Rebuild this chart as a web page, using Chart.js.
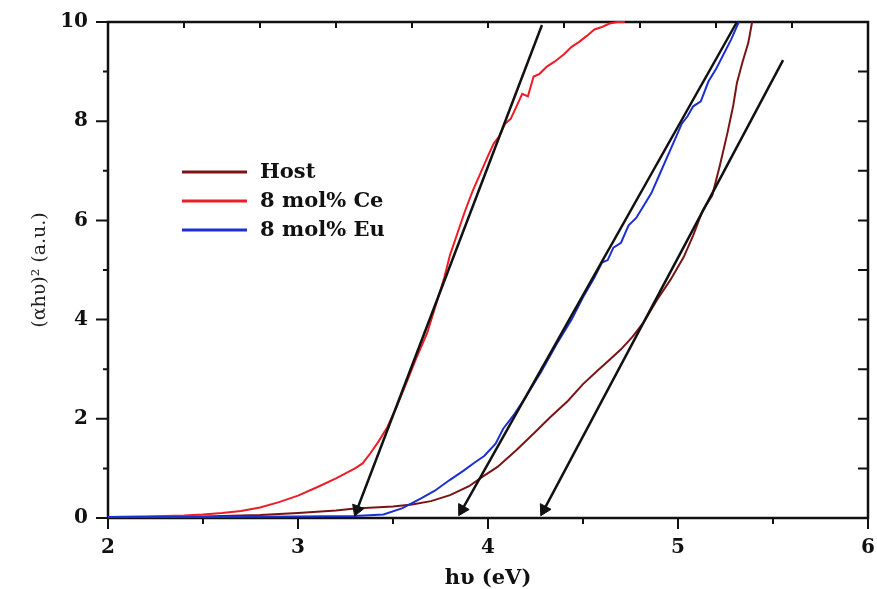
<!DOCTYPE html>
<html>
<head>
<meta charset="utf-8">
<script src="https://cdn.jsdelivr.net/npm/chart.js@4.4.0/dist/chart.umd.min.js"></script>
<style>
body{margin:0;background:#fff;}
canvas{display:block;}
</style>
</head>
<body>
<canvas id="taucChart" width="877" height="589"></canvas>
<script>
// values: x = h nu (eV), y = (alpha h nu)^2 (a.u.)
var seriesNames = ['Host', '8 mol% Ce', '8 mol% Eu'];

var hostX = [2.0, 2.5, 2.8, 3.0, 3.2, 3.3, 3.4, 3.5, 3.6, 3.7, 3.8, 3.9, 3.97, 4.05, 4.15, 4.25, 4.33, 4.42, 4.5, 4.57, 4.64, 4.7, 4.76, 4.82, 4.89, 4.96, 5.03, 5.08, 5.13, 5.18, 5.22, 5.26, 5.29, 5.31, 5.34, 5.37, 5.39];
var hostY = [0.02, 0.03, 0.06, 0.1, 0.15, 0.19, 0.21, 0.23, 0.27, 0.34, 0.46, 0.64, 0.83, 1.03, 1.37, 1.74, 2.04, 2.36, 2.7, 2.95, 3.19, 3.4, 3.65, 3.95, 4.4, 4.8, 5.26, 5.7, 6.2, 6.5, 7.1, 7.76, 8.3, 8.77, 9.2, 9.58, 10.0];

var ceX = [2.0, 2.2, 2.4, 2.5, 2.6, 2.7, 2.8, 2.9, 3.0, 3.1, 3.2, 3.26, 3.3, 3.34, 3.38, 3.42, 3.47, 3.52, 3.57, 3.62, 3.68, 3.73, 3.77, 3.8, 3.84, 3.88, 3.92, 3.96, 4.0, 4.03, 4.06, 4.09, 4.12, 4.15, 4.18, 4.21, 4.24, 4.27, 4.31, 4.35, 4.4, 4.44, 4.48, 4.52, 4.56, 4.6, 4.64, 4.68, 4.72];
var ceY = [0.02, 0.03, 0.05, 0.07, 0.1, 0.14, 0.21, 0.32, 0.45, 0.62, 0.8, 0.92, 1.0, 1.1, 1.3, 1.52, 1.83, 2.25, 2.72, 3.2, 3.73, 4.35, 4.85, 5.3, 5.75, 6.2, 6.6, 6.95, 7.3, 7.55, 7.7, 7.95, 8.05, 8.3, 8.55, 8.5, 8.9, 8.95, 9.1, 9.2, 9.35, 9.5, 9.6, 9.72, 9.85, 9.9, 9.97, 10.0, 10.0];

var euX = [2.0, 2.5, 3.0, 3.3, 3.45, 3.55, 3.65, 3.72, 3.8, 3.87, 3.93, 3.98, 4.04, 4.08, 4.14, 4.2, 4.28, 4.36, 4.44, 4.5, 4.56, 4.6, 4.63, 4.66, 4.7, 4.74, 4.78, 4.82, 4.86, 4.9, 4.94, 4.98, 5.02, 5.05, 5.08, 5.12, 5.16, 5.2, 5.24, 5.28, 5.32];
var euY = [0.02, 0.02, 0.03, 0.04, 0.07, 0.2, 0.4, 0.55, 0.77, 0.95, 1.12, 1.25, 1.5, 1.8, 2.1, 2.45, 2.95, 3.5, 4.0, 4.45, 4.85, 5.15, 5.2, 5.45, 5.55, 5.9, 6.05, 6.3, 6.55, 6.9, 7.25, 7.6, 7.95, 8.1, 8.3, 8.4, 8.8, 9.05, 9.35, 9.65, 10.0];

// tangent arrows: [head end, far end]
var arrowX = [[3.311, 4.284], [3.864, 5.31], [4.295, 5.553]];
var arrowY = [[0.17, 9.94], [0.17, 10.0], [0.17, 9.23]];

// axis ticks
var xMajor = [2, 3, 4, 5, 6];
var xMinor = [2.5, 3.5, 4.5, 5.5];
var topTicks = [2.4, 2.8, 3.2, 3.6, 4.0, 4.4, 4.8, 5.2, 5.6];
var yMajor = [0, 2, 4, 6, 8, 10];
var yMinor = [1, 3, 5, 7, 9];
var rightTicks = [1, 2, 3, 4, 5, 6, 7, 8, 9];

var colors = ['#7a1414', '#ee1c24', '#1c2fd2'];

function pts(xs, ys) {
    return xs.map(function (x, i) { return {x: x, y: ys[i]}; });
}

function arrowAngle(ctx) {
    var c = ctx.chart, d = ctx.dataset.data;
    var sx = c.scales.x, sy = c.scales.y;
    var dx = sx.getPixelForValue(d[0].x) - sx.getPixelForValue(d[1].x);
    var dy = sy.getPixelForValue(d[0].y) - sy.getPixelForValue(d[1].y);
    return Math.atan2(dx, -dy) * 180 / Math.PI;
}

var datasets = [];
arrowX.forEach(function (ax, i) {
    datasets.push({
        data: pts(ax, arrowY[i]),
        borderColor: '#111',
        borderWidth: 2.5,
        pointStyle: 'triangle',
        pointRadius: [7, 0],
        pointBorderWidth: 1,
        pointBackgroundColor: '#111',
        pointBorderColor: '#111',
        pointRotation: arrowAngle,
        clip: 4
    });
});
datasets.push({label: seriesNames[2], data: pts(euX, euY), borderColor: colors[2], borderWidth: 2, pointRadius: 0, clip: 4});
datasets.push({label: seriesNames[1], data: pts(ceX, ceY), borderColor: colors[1], borderWidth: 2, pointRadius: 0, clip: 4});
datasets.push({label: seriesNames[0], data: pts(hostX, hostY), borderColor: colors[0], borderWidth: 2, pointRadius: 0, clip: 4});

var framePlugin = {
    id: 'frame',
    beforeDatasetsDraw: function (chart) {
        var c = chart.ctx, a = chart.chartArea, sx = chart.scales.x, sy = chart.scales.y;
        c.save();
        c.strokeStyle = '#111';
        c.lineWidth = 2.5;
        c.strokeRect(a.left, a.top, a.right - a.left, a.bottom - a.top);
        c.lineWidth = 2;
        c.beginPath();
        xMajor.forEach(function (v) { var p = sx.getPixelForValue(v); c.moveTo(p, a.bottom); c.lineTo(p, a.bottom + 11); });
        xMinor.forEach(function (v) { var p = sx.getPixelForValue(v); c.moveTo(p, a.bottom); c.lineTo(p, a.bottom + 6); });
        topTicks.forEach(function (v) { var p = sx.getPixelForValue(v); c.moveTo(p, a.top); c.lineTo(p, a.top + 6); });
        yMajor.forEach(function (v) { var p = sy.getPixelForValue(v); c.moveTo(a.left, p); c.lineTo(a.left - 12, p); });
        yMinor.forEach(function (v) { var p = sy.getPixelForValue(v); c.moveTo(a.left, p); c.lineTo(a.left - 5, p); });
        rightTicks.forEach(function (v) { var p = sy.getPixelForValue(v); c.moveTo(a.right, p); c.lineTo(a.right - 10, p); });
        c.stroke();
        c.restore();
    },
    afterDraw: function (chart) {
        // legend inside the plot, upper left
        var c = chart.ctx, a = chart.chartArea;
        var x0 = a.left + 74, x1 = a.left + 139, rows = [a.top + 150, a.top + 179, a.top + 208];
        c.save();
        c.font = 'bold 21px "DejaVu Serif"';
        c.textBaseline = 'middle';
        c.fillStyle = '#111';
        seriesNames.forEach(function (name, i) {
            c.strokeStyle = colors[i];
            c.lineWidth = 3;
            c.beginPath();
            c.moveTo(x0, rows[i]);
            c.lineTo(x1, rows[i]);
            c.stroke();
            c.fillText(name, x1 + 13, rows[i] + 1);
        });
        c.restore();
    }
};

var tickFont = {family: 'DejaVu Serif', weight: 'bold', size: 20};
var hidden = 'rgba(0,0,0,0)';

new Chart(document.getElementById('taucChart'), {
    type: 'line',
    data: {datasets: datasets},
    options: {
        responsive: false,
        animation: false,
        events: [],
        layout: {padding: {top: 22, right: 9, left: 0, bottom: 0}},
        elements: {line: {tension: 0}},
        plugins: {legend: {display: false}, tooltip: {enabled: false}},
        scales: {
            x: {
                type: 'linear', min: 2, max: 6,
                ticks: {stepSize: 1, color: '#111', font: tickFont, padding: 6, maxRotation: 0},
                grid: {drawOnChartArea: false, tickLength: 12, color: hidden},
                border: {display: false},
                title: {display: true, text: 'hυ (eV)', color: '#111', padding: 0,
                    font: {family: 'DejaVu Serif', weight: 'bold', size: 21, lineHeight: 1}},
                afterFit: function (s) { s.height = 71; s.paddingLeft = 0; s.paddingRight = 0; }
            },
            y: {
                type: 'linear', min: 0, max: 10,
                ticks: {stepSize: 2, color: '#111', font: tickFont, padding: 8},
                grid: {drawOnChartArea: false, tickLength: 12, color: hidden},
                border: {display: false},
                title: {display: true, text: '(αhυ)² (a.u.)', color: '#222', padding: {top: 31, bottom: 0},
                    font: {family: 'DejaVu Serif', size: 19, lineHeight: 1}},
                afterFit: function (s) { s.width = 108; }
            }
        }
    },
    plugins: [framePlugin]
});
</script>
</body>
</html>
